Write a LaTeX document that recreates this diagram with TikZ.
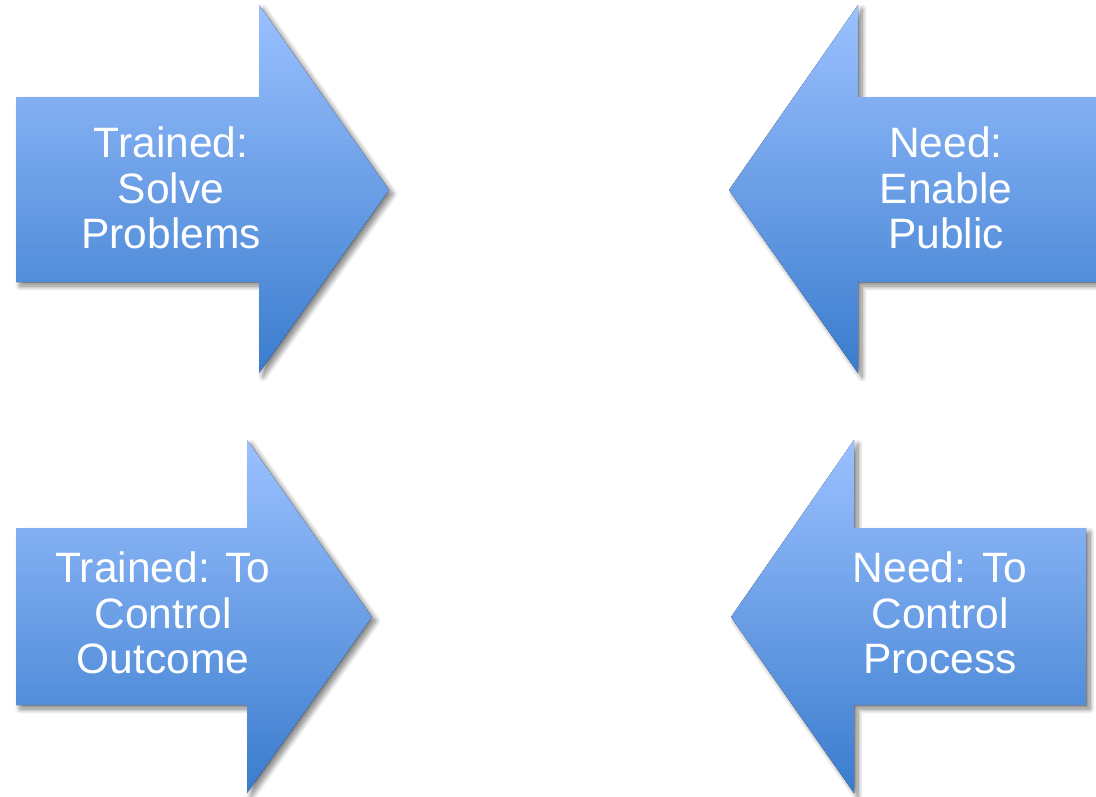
\documentclass[tikz,border=0pt]{standalone}
\usepackage{fontspec}
\setmainfont{Liberation Sans}
\usepackage{xcolor}
\usetikzlibrary{shadows.blur}
\definecolor{arrowtop}{RGB}{155,193,255}
\definecolor{arrowbot}{RGB}{58,124,205}

\begin{document}
\begin{tikzpicture}[x=1pt,y=-1pt]
    \tikzstyle{bigarrow} = [top color=arrowtop, bottom color=arrowbot, draw=none,
      blur shadow={shadow xshift=4pt, shadow yshift=-4pt, shadow blur radius=5pt, shadow blur steps=10, shadow opacity=50}]
    \tikzstyle{arrowtext} = [text=white, align=center, font=\fontsize{42.5}{45.5}\selectfont]
    \useasboundingbox (0,0) rectangle (1096,796);
    % top row
    \fill[bigarrow] (16,97) -- (259,97) -- (259,5) -- (389,190) -- (259,373) -- (259,282) -- (16,282) -- cycle;
    \fill[bigarrow] (1110,97) -- (858,97) -- (858,5) -- (729,190) -- (858,373) -- (858,282) -- (1110,282) -- cycle;
    % bottom row
    \fill[bigarrow] (16,528) -- (247,528) -- (247,440) -- (372,617) -- (247,793) -- (247,705) -- (16,705) -- cycle;
    \fill[bigarrow] (1086,528) -- (854,528) -- (854,440) -- (731,617) -- (854,793) -- (854,705) -- (1086,705) -- cycle;
    \node[arrowtext] (solve) at (171,188) {Trained:\\Solve\\Problems};
    \node[arrowtext] (enable) at (946,188) {Need:\\Enable\\Public};
    \node[arrowtext] (outcome) at (163,613) {Trained: To\\Control\\Outcome};
    \node[arrowtext] (process) at (940,613) {Need: To\\Control\\Process};
\end{tikzpicture}
\end{document}
